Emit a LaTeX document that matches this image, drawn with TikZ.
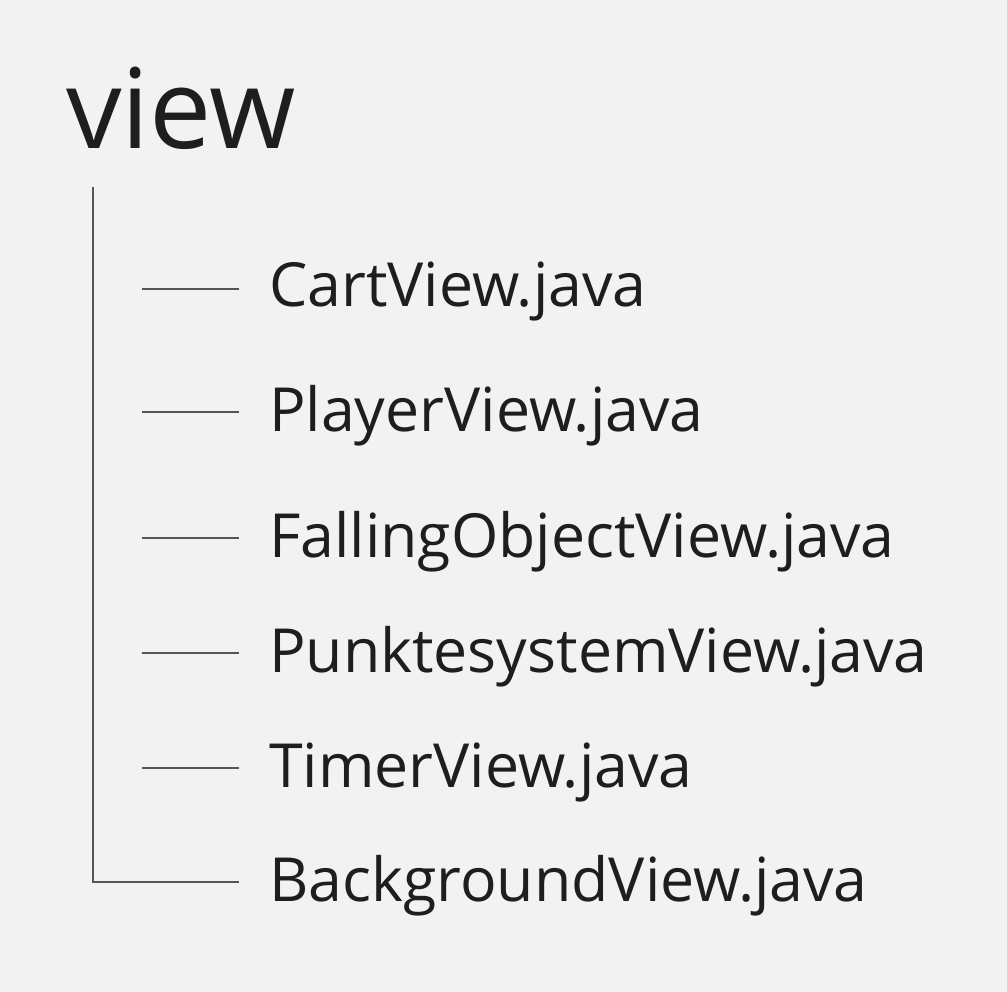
\documentclass[tikz,border=0pt]{standalone}
\usepackage{fontspec}
\setmainfont{Open Sans}
\definecolor{bgcol}{HTML}{F2F2F2}
\definecolor{txtcol}{HTML}{1E1E1E}
\definecolor{linecol}{HTML}{555555}
\tikzset{
  folder/.style={anchor=base west, inner sep=0pt, text=txtcol, font=\fontsize{111}{128}\selectfont},
  file/.style={anchor=base west, inner sep=0pt, text=txtcol, font=\fontsize{60.8}{70}\selectfont},
  branch/.style={draw=linecol, line width=1.1pt}
}
\begin{document}
\begin{tikzpicture}[x=1pt,y=-1pt]
  \fill[bgcol] (0,0) rectangle (1007,992);
  \useasboundingbox (0,0) rectangle (1007,992);

  % Folder
  \node[folder] (view) at (66,149) {view};

  % Files
  \node[file] (cart) at (269,307) {CartView.java};
  \node[file] (player) at (269,431) {PlayerView.java};
  \node[file] (falling) at (269,557) {FallingObjectView.java};
  \node[file] (punkte) at (269,672) {PunktesystemView.java};
  \node[file] (timer) at (269,787) {TimerView.java};
  \node[file] (background) at (269,901) {BackgroundView.java};

  % Branch ends
  \coordinate (top) at (93,187);
  \coordinate (corner) at (93,882);
  \coordinate (c1) at (142,289); \coordinate (e1) at (239,289);
  \coordinate (c2) at (142,412); \coordinate (e2) at (239,412);
  \coordinate (c3) at (142,538); \coordinate (e3) at (239,538);
  \coordinate (c4) at (142,653); \coordinate (e4) at (239,653);
  \coordinate (c5) at (142,768); \coordinate (e5) at (239,768);
  \coordinate (e6) at (239,882);

  % Edges
  \draw[branch] (top) -- (corner) -- (e6);
  \draw[branch] (c1) -- (e1);
  \draw[branch] (c2) -- (e2);
  \draw[branch] (c3) -- (e3);
  \draw[branch] (c4) -- (e4);
  \draw[branch] (c5) -- (e5);
\end{tikzpicture}
\end{document}
